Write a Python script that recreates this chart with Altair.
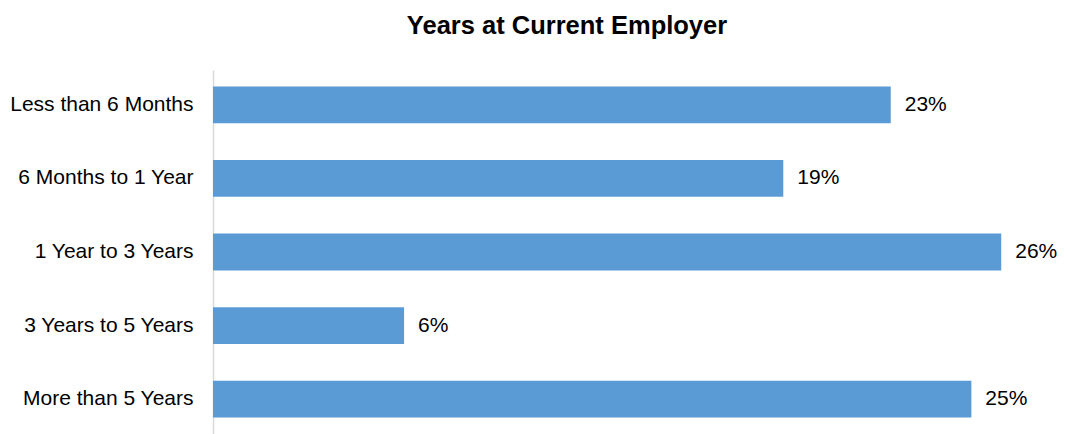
import altair as alt
import pandas as pd

categories = ["Less than 6 Months", "6 Months to 1 Year", "1 Year to 3 Years",
              "3 Years to 5 Years", "More than 5 Years"]
values = [22.7, 19.1, 26.4, 6.4, 25.4]
labels = ["23%", "19%", "26%", "6%", "25%"]

df = pd.DataFrame({"category": categories, "value": values, "label": labels})

FONT = "Liberation Sans"

y = alt.Y("category:N", sort=categories, title=None,
          scale=alt.Scale(paddingInner=0.5, paddingOuter=0.226),
          axis=alt.Axis(domain=True, domainColor="#d9d9d9", domainWidth=1.5,
                        ticks=False, labelPadding=20, labelFont=FONT,
                        labelFontSize=21, labelColor="#000000", labelLimit=400))
x = alt.X("value:Q", title=None, scale=alt.Scale(domain=[0, 28], nice=False),
          axis=None)

bars = alt.Chart(df).mark_bar(color="#5B9BD5").encode(x=x, y=y)
text = alt.Chart(df).mark_text(align="left", baseline="middle", dx=14,
                               font=FONT, fontSize=21, color="#000000").encode(
    x=x, y=alt.Y("category:N", sort=categories), text="label:N")

chart = alt.layer(bars, text).properties(
    width=836, height=364,
    title=alt.TitleParams("Years at Current Employer", font=FONT, fontSize=25.5,
                          fontWeight="bold", color="#000000", anchor="middle",
                          dx=-64, offset=31),
    autosize=alt.AutoSizeParams(type="none"),
    padding={"left": 205, "top": 62, "right": 9, "bottom": 0},
).configure_view(stroke=None)

chart.save("out.html", embed_options={"renderer": "svg", "actions": False})
